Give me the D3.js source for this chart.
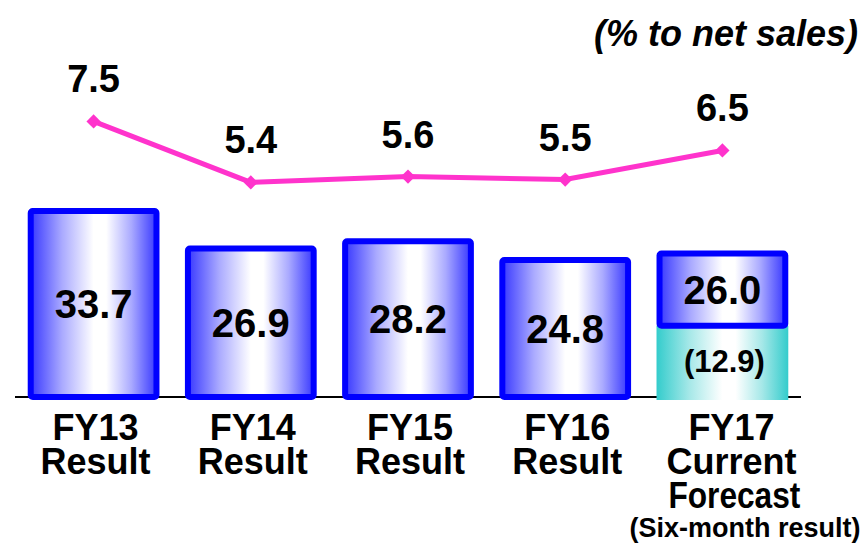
<!DOCTYPE html>
<html>
<head>
<meta charset="utf-8">
<script src="https://cdn.jsdelivr.net/npm/d3@7"></script>
<style>
  html, body { margin: 0; padding: 0; background: #fff; }
  svg { display: block; font-family: "Liberation Sans", Arial, sans-serif; }
</style>
</head>
<body>
<svg id="chart" width="866" height="544"></svg>
<script>
// Fiscal years and their axis label lines
const categories = ["FY13", "FY14", "FY15", "FY16", "FY17"];
const categoryLines = [
  ["FY13", "Result"],
  ["FY14", "Result"],
  ["FY15", "Result"],
  ["FY16", "Result"],
  ["FY17", "Current", "Forecast"]
];
const categoryNote = "(Six-month result)";

// Operating income (bars) and six-month portion of the forecast year
const incomeValues = [33.7, 26.9, 28.2, 24.8, 26.0];
const halfYearValues = [null, null, null, null, 12.9];

// Ratio to net sales (line)
const ratioValues = [7.5, 5.4, 5.6, 5.5, 6.5];
const unitLabel = "(% to net sales)";

const svg = d3.select("#chart");

const x = d3.scaleBand()
  .domain(categories)
  .range([15, 801])
  .paddingInner(0.2)
  .paddingOuter(0.1);

const y = d3.scaleLinear().domain([0, 40]).range([397, 176.2]);
const yRatio = d3.scaleLinear().domain([0, 10]).range([339.3, 48.8]);

// Horizontal shading: coloured edges fading to white just right of centre
const defs = svg.append("defs");
function hGradient(id, edge, mid) {
  const g = defs.append("linearGradient").attr("id", id)
    .attr("x1", "0%").attr("x2", "100%").attr("y1", "0%").attr("y2", "0%");
  [[0, edge], [0.25, mid], [0.5, "#ffffff"], [0.6, "#ffffff"], [0.8, mid], [1, edge]]
    .forEach(([o, c]) => g.append("stop").attr("offset", o).attr("stop-color", c));
}
hGradient("blueGrad", "#3838ff", "#aaaaff");
hGradient("cyanGrad", "#33cccc", "#a6e8e8");

// Baseline
svg.append("line")
  .attr("x1", 15).attr("x2", 801)
  .attr("y1", y(0)).attr("y2", y(0))
  .attr("stroke", "#000").attr("stroke-width", 2);

const rows = categories.map((c, i) => ({
  cat: c, total: incomeValues[i], half: halfYearValues[i], ratio: ratioValues[i], lines: categoryLines[i]
}));

const bw = x.bandwidth();
const sw = 6;
const cx = d => x(d.cat) + bw / 2;

// Six-month segment
rows.filter(d => d.half != null).forEach(d => {
  svg.append("rect")
    .attr("x", x(d.cat) - sw / 2)
    .attr("width", bw + sw)
    .attr("y", y(d.half))
    .attr("height", y(0) - y(d.half) + sw / 2)
    .attr("fill", "url(#cyanGrad)");
  svg.append("text")
    .attr("x", cx(d) + 2)
    .attr("y", (y(d.half) + y(0)) / 2 + 11)
    .attr("text-anchor", "middle")
    .attr("font-size", 31).attr("font-weight", "bold")
    .text(`(${d.half.toFixed(1)})`);
});

// Main bars
rows.forEach(d => {
  const base = d.half != null ? d.half : 0;
  svg.append("rect")
    .attr("x", x(d.cat))
    .attr("width", bw)
    .attr("y", y(d.total))
    .attr("height", y(base) - y(d.total))
    .attr("rx", 2)
    .attr("fill", "url(#blueGrad)")
    .attr("stroke", "#0000ff")
    .attr("stroke-width", sw);
  svg.append("text")
    .attr("x", cx(d))
    .attr("y", (y(d.total) + y(base)) / 2 + 14)
    .attr("text-anchor", "middle")
    .attr("font-size", 40).attr("font-weight", "bold")
    .text(d.total.toFixed(1));
});

// Ratio line
svg.append("path")
  .datum(rows)
  .attr("d", d3.line().x(cx).y(d => yRatio(d.ratio)))
  .attr("fill", "none")
  .attr("stroke", "#ff33cc")
  .attr("stroke-width", 5);

svg.selectAll(".marker").data(rows).join("path")
  .attr("class", "marker")
  .attr("transform", d => `translate(${cx(d)},${yRatio(d.ratio)})`)
  .attr("d", d3.symbol(d3.symbolDiamond2, 130))
  .attr("fill", "#ff33cc");

svg.selectAll(".ratio-label").data(rows).join("text")
  .attr("class", "ratio-label")
  .attr("x", cx)
  .attr("y", d => yRatio(d.ratio) - 29)
  .attr("text-anchor", "middle")
  .attr("font-size", 38).attr("font-weight", "bold")
  .text(d => d.ratio.toFixed(1));

// Category labels, one text block per year with stacked lines
rows.forEach((d, i) => {
  const shift = i === rows.length - 1 ? 9 : 2;
  const t = svg.append("text")
    .attr("text-anchor", "middle")
    .attr("font-size", 36).attr("font-weight", "bold");
  d.lines.forEach((line, j) => {
    const ts = t.append("tspan")
      .attr("x", cx(d) + shift)
      .attr("y", 440 + j * 34)
      .text(line);
    if (line === "Forecast") {
      ts.attr("x", cx(d) + shift + 3)
        .attr("textLength", 132)
        .attr("lengthAdjust", "spacingAndGlyphs");
    }
  });
});

svg.append("text")
  .attr("x", 745)
  .attr("y", 537)
  .attr("text-anchor", "middle")
  .attr("font-size", 27).attr("font-weight", "bold")
  .text(categoryNote);

svg.append("text")
  .attr("x", 858)
  .attr("y", 46)
  .attr("text-anchor", "end")
  .attr("font-size", 36).attr("font-weight", "bold").attr("font-style", "italic")
  .text(unitLabel);
</script>
</body>
</html>
